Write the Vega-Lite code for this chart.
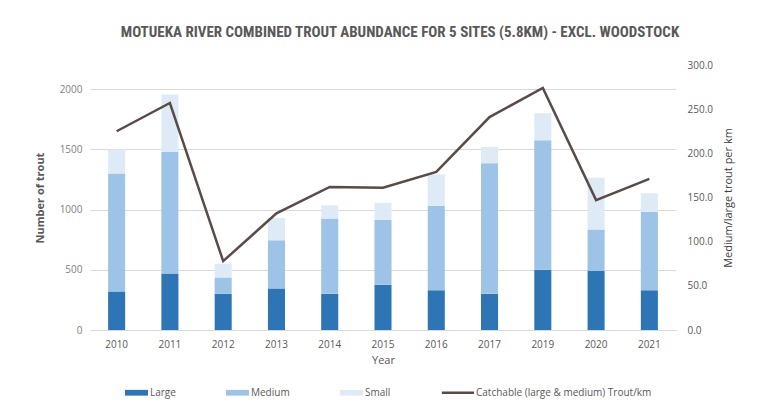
{
  "$schema": "https://vega.github.io/schema/vega-lite/v6.json",
  "width": 586,
  "height": 265,
  "autosize": {"type": "none"},
  "padding": {"left": 90, "top": 65, "right": 83, "bottom": 77},
  "background": "white",
  "title": {
    "text": "MOTUEKA RIVER COMBINED TROUT ABUNDANCE FOR 5 SITES (5.8KM) - EXCL. WOODSTOCK",
    "anchor": "middle",
    "frame": "group",
    "dx": 17,
    "offset": 20,
    "font": "Liberation Sans Narrow, Roboto Condensed, Roboto, sans-serif",
    "fontSize": 15,
    "fontWeight": "bold",
    "color": "#595959"
  },
  "datasets": {
    "counts": [
      {"year": "2010", "size": "Large", "count": 320},
      {"year": "2010", "size": "Medium", "count": 980},
      {"year": "2010", "size": "Small", "count": 200},
      {"year": "2011", "size": "Large", "count": 470},
      {"year": "2011", "size": "Medium", "count": 1010},
      {"year": "2011", "size": "Small", "count": 475},
      {"year": "2012", "size": "Large", "count": 300},
      {"year": "2012", "size": "Medium", "count": 135},
      {"year": "2012", "size": "Small", "count": 115},
      {"year": "2013", "size": "Large", "count": 345},
      {"year": "2013", "size": "Medium", "count": 400},
      {"year": "2013", "size": "Small", "count": 185},
      {"year": "2014", "size": "Large", "count": 300},
      {"year": "2014", "size": "Medium", "count": 625},
      {"year": "2014", "size": "Small", "count": 110},
      {"year": "2015", "size": "Large", "count": 375},
      {"year": "2015", "size": "Medium", "count": 540},
      {"year": "2015", "size": "Small", "count": 140},
      {"year": "2016", "size": "Large", "count": 330},
      {"year": "2016", "size": "Medium", "count": 700},
      {"year": "2016", "size": "Small", "count": 260},
      {"year": "2017", "size": "Large", "count": 300},
      {"year": "2017", "size": "Medium", "count": 1085},
      {"year": "2017", "size": "Small", "count": 135},
      {"year": "2019", "size": "Large", "count": 500},
      {"year": "2019", "size": "Medium", "count": 1075},
      {"year": "2019", "size": "Small", "count": 225},
      {"year": "2020", "size": "Large", "count": 490},
      {"year": "2020", "size": "Medium", "count": 345},
      {"year": "2020", "size": "Small", "count": 430},
      {"year": "2021", "size": "Large", "count": 330},
      {"year": "2021", "size": "Medium", "count": 650},
      {"year": "2021", "size": "Small", "count": 155}
    ],
    "perkm": [
      {"year": "2010", "trout_per_km": 225},
      {"year": "2011", "trout_per_km": 257},
      {"year": "2012", "trout_per_km": 78},
      {"year": "2013", "trout_per_km": 132},
      {"year": "2014", "trout_per_km": 162},
      {"year": "2015", "trout_per_km": 161},
      {"year": "2016", "trout_per_km": 179},
      {"year": "2017", "trout_per_km": 241},
      {"year": "2019", "trout_per_km": 274},
      {"year": "2020", "trout_per_km": 147},
      {"year": "2021", "trout_per_km": 171}
    ]
  },
  "layer": [
    {
      "data": {"name": "counts"},
      "mark": {"type": "bar"},
      "encoding": {
        "x": {
          "field": "year",
          "type": "ordinal",
          "scale": {"paddingInner": 0.68, "paddingOuter": 0.34},
          "axis": {
            "title": "Year",
            "labelAngle": 0,
            "ticks": false,
            "labelPadding": 9,
            "domainColor": "#d9d9d9",
            "labelColor": "#595959",
            "labelFontSize": 10,
            "titleFontSize": 11,
            "titleFontWeight": "normal",
            "titleColor": "#595959",
            "titlePadding": 5
          }
        },
        "y": {
          "field": "count",
          "type": "quantitative",
          "stack": "zero",
          "scale": {"domain": [0, 2200]},
          "axis": {
            "values": [0, 500, 1000, 1500, 2000],
            "format": "d",
            "grid": true,
            "gridColor": "#d9d9d9",
            "domain": false,
            "ticks": false,
            "labelPadding": 8,
            "labelColor": "#7f7f7f",
            "labelFontSize": 10,
            "title": "Number of trout",
            "titleFontWeight": "bold",
            "titleFontSize": 11,
            "titleColor": "#595959",
            "titlePadding": 14
          }
        },
        "color": {
          "field": "size",
          "type": "nominal",
          "scale": {
            "domain": ["Large", "Medium", "Small", "Catchable (large & medium) Trout/km"],
            "range": ["#2e75b6", "#9dc3e6", "#deebf7", "#5a4b46"]
          },
          "legend": {
            "orient": "none",
            "legendX": 35,
            "legendY": 316,
            "direction": "horizontal",
            "title": null,
            "symbolType": "M-1,-0.25H1V0.25H-1Z",
            "symbolSize": 529,
            "symbolStrokeWidth": 0,
            "labelFontSize": 10,
            "labelColor": "#595959",
            "labelOffset": 2,
            "labelLimit": 400,
            "columnPadding": 50,
            "encode": {
              "symbols": {
                "update": {
                  "shape": {"signal": "datum.value === 'Catchable (large & medium) Trout/km' ? 'M-1.8,-0.1H1V0.1H-1.8Z' : 'M-1,-0.25H1V0.25H-1Z'"},
                  "fill": {"scale": "color", "field": "value"},
                  "strokeWidth": {"value": 0}
                }
              }
            }
          }
        },
        "order": {"field": "size", "sort": "ascending"}
      }
    },
    {
      "data": {"name": "perkm"},
      "mark": {"type": "line", "strokeWidth": 2.5},
      "encoding": {
        "x": {"field": "year", "type": "ordinal"},
        "y": {
          "field": "trout_per_km",
          "type": "quantitative",
          "scale": {"domain": [0, 300]},
          "axis": {
            "orient": "right",
            "values": [0, 50, 100, 150, 200, 250, 300],
            "format": ".1f",
            "grid": false,
            "domain": false,
            "ticks": false,
            "labelPadding": 11,
            "labelColor": "#595959",
            "labelFontSize": 10,
            "title": "Medium/large trout per km",
            "titleAngle": 270,
            "titleFontWeight": "normal",
            "titleFontSize": 11,
            "titleColor": "#404040",
            "titlePadding": 21
          }
        },
        "color": {"datum": "Catchable (large & medium) Trout/km", "type": "nominal"}
      }
    }
  ],
  "resolve": {"scale": {"y": "independent"}},
  "config": {
    "font": "Open Sans",
    "view": {"stroke": null}
  }
}
